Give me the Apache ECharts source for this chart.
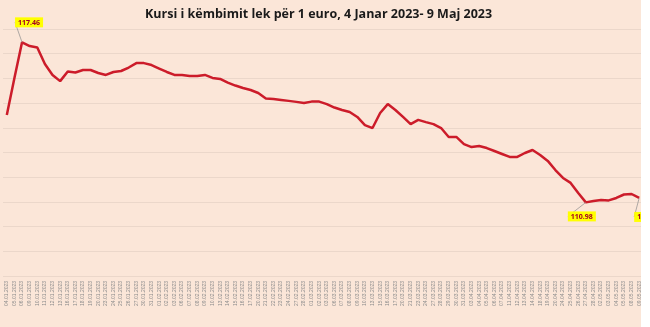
<!DOCTYPE html>
<html>
<head>
<meta charset="utf-8">
<script src="https://cdn.jsdelivr.net/npm/echarts@6/dist/echarts.min.js"></script>
<style>
  html, body { margin: 0; padding: 0; background: #ffffff; }
  #chart { width: 650px; height: 327px; }
</style>
</head>
<body>
<div id="chart"></div>
<script>
// Business days (Bank of Albania fixing dates)
const dates = [
  "04.01.2023","05.01.2023","06.01.2023","09.01.2023","10.01.2023","11.01.2023","12.01.2023","13.01.2023","16.01.2023","17.01.2023",
  "18.01.2023","19.01.2023","20.01.2023","23.01.2023","24.01.2023","25.01.2023","26.01.2023","27.01.2023","30.01.2023","31.01.2023",
  "01.02.2023","02.02.2023","03.02.2023","06.02.2023","07.02.2023","08.02.2023","09.02.2023","10.02.2023","13.02.2023","14.02.2023",
  "15.02.2023","16.02.2023","17.02.2023","20.02.2023","21.02.2023","22.02.2023","23.02.2023","24.02.2023","27.02.2023","28.02.2023",
  "01.03.2023","02.03.2023","03.03.2023","06.03.2023","07.03.2023","08.03.2023","09.03.2023","10.03.2023","13.03.2023","15.03.2023",
  "16.03.2023","17.03.2023","20.03.2023","21.03.2023","23.03.2023","24.03.2023","27.03.2023","28.03.2023","29.03.2023","30.03.2023",
  "31.03.2023","03.04.2023","04.04.2023","05.04.2023","06.04.2023","07.04.2023","11.04.2023","12.04.2023","13.04.2023","14.04.2023",
  "18.04.2023","19.04.2023","20.04.2023","24.04.2023","25.04.2023","26.04.2023","27.04.2023","28.04.2023","02.05.2023","03.05.2023",
  "04.05.2023","05.05.2023","08.05.2023","09.05.2023"
];

// Lek per 1 euro
const rates = [
  114.52, 116.02, 117.46, 117.31, 117.25, 116.58, 116.14, 115.89, 116.28, 116.24,
  116.34, 116.34, 116.22, 116.14, 116.26, 116.30, 116.44, 116.62, 116.62, 116.54,
  116.40, 116.26, 116.14, 116.14, 116.10, 116.10, 116.14, 116.02, 115.98, 115.83,
  115.71, 115.61, 115.53, 115.41, 115.19, 115.17, 115.13, 115.09, 115.05, 115.00,
  115.06, 115.06, 114.96, 114.82, 114.72, 114.64, 114.44, 114.11, 113.99, 114.60,
  114.96, 114.72, 114.44, 114.15, 114.32, 114.23, 114.15, 113.99, 113.63, 113.63,
  113.34, 113.22, 113.26, 113.18, 113.06, 112.94, 112.82, 112.82, 112.98, 113.10,
  112.90, 112.66, 112.29, 111.97, 111.77, 111.36, 110.98, 111.04, 111.08, 111.06,
  111.16, 111.30, 111.32, 111.16
];

// Value axis range (labels hidden, gridlines every 1 lek)
const yMin = 108;
const yMax = 118;
const yStep = 1;

// Points that carry a value callout: index -> label placement offset
const callouts = {
  2:  { position: 'top',    dx: 7,  dy: -10 },
  76: { position: 'bottom', dx: -4, dy: 4 },
  83: { position: 'bottom', dx: 9,  dy: 9 }
};

const seriesData = rates.map((v, i) => {
  const c = callouts[i];
  if (!c) return v;
  return {
    value: v,
    label: {
      show: true,
      position: c.position,
      distance: 5,
      formatter: (p) => p.value.toFixed(2),
      backgroundColor: '#FFFF00',
      color: '#A50021',
      fontFamily: 'Open Sans',
      fontSize: 7,
      fontWeight: 'bold',
      padding: [2, 3, 1, 3]
    }
  };
});

const chart = echarts.init(document.getElementById('chart'), null, { renderer: 'canvas' });

chart.setOption({
  backgroundColor: '#FBE6D8',
  animation: false,
  title: {
    text: 'Kursi i këmbimit lek për 1 euro, 4 Janar 2023- 9 Maj 2023',
    left: 140,
    top: 3,
    textStyle: {
      fontFamily: 'Open Sans',
      fontSize: 12.5,
      fontWeight: 'bold',
      color: '#1a1a1a'
    }
  },
  grid: { left: 3, right: 7, top: 29, bottom: 51, containLabel: false },
  xAxis: {
    type: 'category',
    data: dates,
    boundaryGap: true,
    axisLine: { show: false },
    axisTick: { show: false },
    axisLabel: {
      interval: 0,
      rotate: 90,
      margin: 5,
      fontSize: 5,
      fontFamily: 'Liberation Sans',
      color: '#8c8c8c'
    }
  },
  yAxis: {
    type: 'value',
    min: yMin,
    max: yMax,
    interval: yStep,
    axisLabel: { show: false },
    axisLine: { show: false },
    axisTick: { show: false },
    splitLine: { lineStyle: { color: '#EBD7CA', width: 1 } }
  },
  series: [{
    type: 'line',
    data: seriesData,
    symbol: 'circle',
    symbolSize: 0,
    showSymbol: true,
    lineStyle: { color: '#CC1C2A', width: 2.5 },
    itemStyle: { color: '#CC1C2A' },
    labelLine: { show: true, lineStyle: { color: '#8c8c8c', width: 0.7 } },
    labelLayout: (params) => {
      const c = callouts[params.dataIndex];
      if (!c) return {};
      return { dx: c.dx, dy: c.dy };
    }
  }],
  graphic: [{
    type: 'rect',
    right: 0,
    top: 0,
    z: 100,
    shape: { width: 9, height: 327 },
    style: { fill: '#ffffff' }
  }]
});
</script>
</body>
</html>
